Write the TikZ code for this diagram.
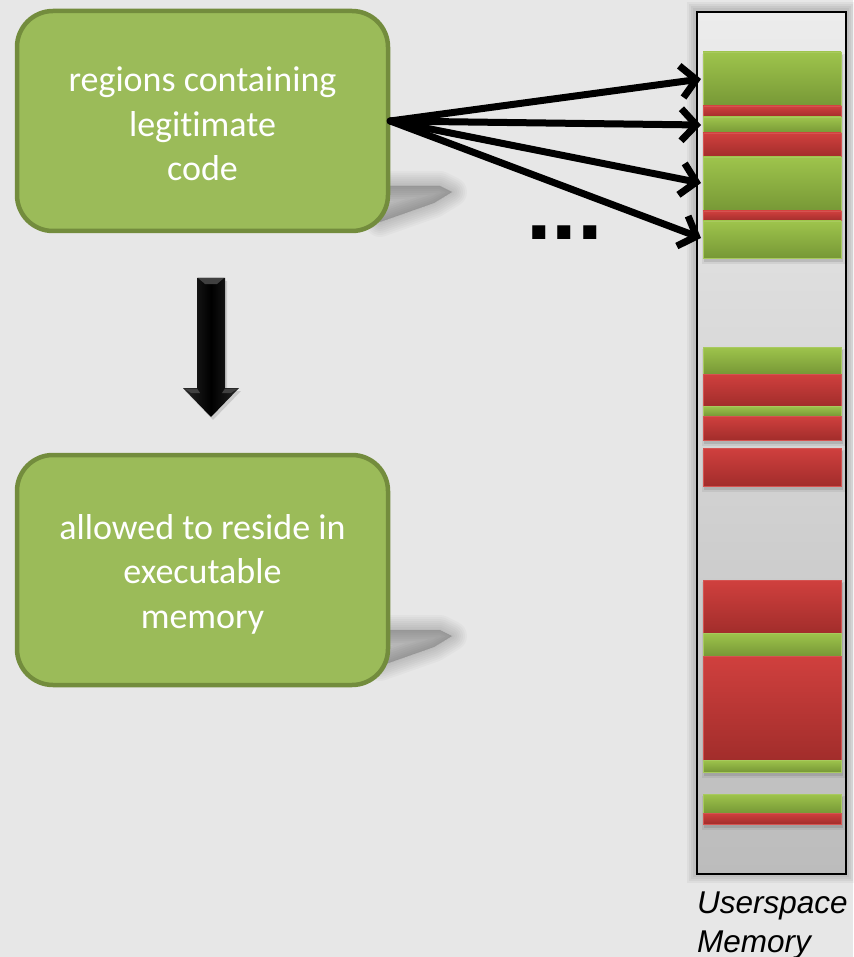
\documentclass[tikz,border=0pt]{standalone}
\usepackage{fontspec}
\setmainfont{Carlito}[Ligatures=NoCommon]
\newfontfamily\labelfont{Liberation Sans}
\usetikzlibrary{arrows.meta}

\definecolor{pagebg}{HTML}{E7E7E7}
\definecolor{boxfill}{HTML}{9BBB59}
\definecolor{boxedge}{HTML}{738C3D}
\definecolor{gtop}{HTML}{9EC44C}
\definecolor{gbot}{HTML}{779836}
\definecolor{rtop}{HTML}{D0403E}
\definecolor{rbot}{HTML}{A22D2B}
\definecolor{coltop}{HTML}{ECECEC}
\definecolor{colbot}{HTML}{BCBCBC}

\begin{document}
\begin{tikzpicture}[x=1pt,y=-1pt,
  greenbox/.style={rounded corners=36pt, fill=boxfill, draw=boxedge,
    line width=4.5pt, minimum width=371pt, inner sep=0pt},
  boxtext/.style={text=white, align=center, inner sep=0pt,
    font=\fontsize{36}{44.5}\selectfont},
  softshadow/.style={fill=black, draw=black, opacity=0.025, line join=round},
  conn/.style={draw=black, line width=7pt, line cap=round,
    arrows={-Straight Barb[length=15pt,width=32pt]}},
  gblock/.style={top color=gtop, bottom color=gbot, draw=gtop!90!white, line width=0.8pt},
  rblock/.style={top color=rtop, bottom color=rbot, draw=rtop!90!white, line width=0.8pt},
  memlabel/.style={anchor=base west, inner sep=0pt,
    font=\labelfont\itshape\fontsize{31.5}{39}\selectfont}
]
% page
\useasboundingbox (0,0) rectangle (853,957);
\fill[pagebg] (0,0) rectangle (853,957);

% soft cast shadows of the two text boxes
\foreach \dy in {0,444}{
  \foreach \w in {30,26,22,18,14,10,6,2}{
    \filldraw[softshadow, line width=\w pt]
      (370,\dy+186) -- (440,\dy+186) -- (452,\dy+192) -- (434,\dy+203) -- (380,\dy+222) -- cycle;
  }
}

% the two rounded boxes
\node[greenbox, minimum height=220pt] (code) at (202.5,121) {};
\node[greenbox, minimum height=230pt] (exec) at (202.5,570) {};
\node[boxtext] (codetext) at (202.5,124) {regions containing\\legitimate\\code};
\node[boxtext] (exectext) at (202.5,574) {allowed to reside in\\executable\\memory};

% block arrow between the boxes
\fill[black, opacity=0.12] (199,281) -- (227,281) -- (227,391) -- (241,391)
  -- (213,420) -- (185,391) -- (199,391) -- cycle;
\shade[left color=black!85, right color=black!85, middle color=black]
  (197,278) -- (225,278) -- (225,388) -- (239,388) -- (211,417)
  -- (183,388) -- (197,388) -- cycle;
\fill[black!75] (198,278) -- (224,278) -- (217,284) -- (205,284) -- cycle;
\fill[black!75] (184,388.5) -- (197,388.5) -- (200,393) -- (191,393) -- cycle;
\fill[black!75] (238,388.5) -- (225,388.5) -- (222,393) -- (231,393) -- cycle;

% memory column with a soft halo
\foreach \w in {16,12,8,4}{
  \draw[black, opacity=0.045, line width=\w pt] (695,10) rectangle (847,875);
}
\node[draw=black, line width=2pt, top color=coltop, bottom color=colbot,
  minimum width=149pt, minimum height=862pt, inner sep=0pt] (mem) at (771.5,443) {};

% shadows under the block groups
\foreach \a/\b in {52/258,347/440,448/486,580/772,794/824}{
  \fill[black, opacity=0.10] (704,\a+3) rectangle (843,\b+4);
  \fill[black, opacity=0.06] (702,\a+2) rectangle (845,\b+6);
}

% memory regions: code (green) and data (red)
\foreach \a/\b/\s in {52/106/gblock,106/117/rblock,117/133/gblock,133/157/rblock,
  157/211/gblock,211/221/rblock,221/258/gblock,
  347/374/gblock,374/406/rblock,406/416/gblock,416/440/rblock,448/486/rblock,
  580/633/rblock,633/656/gblock,656/760/rblock,760/772/gblock,
  794/813/gblock,813/824/rblock}{
  \path[\s] (703,\a) rectangle (841,\b);
}

% targets of the code-region arrows
\coordinate (t1) at (701,79);
\coordinate (t2) at (701,125);
\coordinate (t3) at (701,183);
\coordinate (t4) at (701,238);
\draw[conn] (code.east) -- (t1);
\draw[conn] (code.east) -- (t2);
\draw[conn] (code.east) -- (t3);
\draw[conn] (code.east) -- (t4);

% ellipsis
\node[anchor=base west, inner sep=0pt,
  font=\labelfont\bfseries\fontsize{92}{92}\selectfont] (more) at (526,240) {...};

% caption
\node[memlabel] (cap1) at (697,913) {Userspace};
\node[memlabel] (cap2) at (697,952) {Memory};
\end{tikzpicture}
\end{document}
